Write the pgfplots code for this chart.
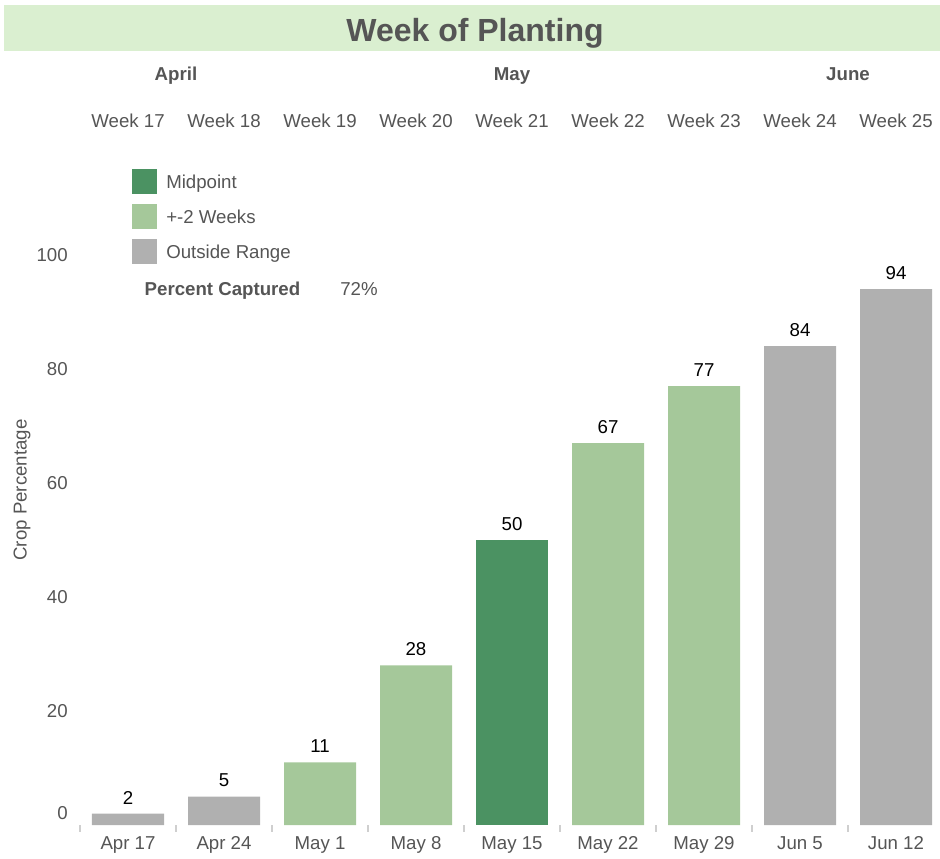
\documentclass[border=0pt]{standalone}
\usepackage{fontspec}
\setmainfont{Liberation Sans}
\usepackage{pgfplots}
\pgfplotsset{compat=1.18}
\definecolor{midg}{HTML}{4B9262}
\definecolor{lightg}{HTML}{A5C89A}
\definecolor{outg}{HTML}{B0B0B0}
\definecolor{txt}{HTML}{555555}
\definecolor{bannerc}{HTML}{DAEFD0}
\definecolor{tickc}{HTML}{CFCFCF}
\newcommand{\lf}{\fontsize{14}{16.8}\selectfont}
\tikzset{lbl/.style={font=\lf, color=txt, text height=10pt, text depth=0pt, inner sep=0pt}}
\begin{document}
\begin{tikzpicture}[x=0.75pt,y=0.75pt]
\useasboundingbox (0,0) rectangle (940,858);
\begin{axis}[
  at={(60pt,24.75pt)}, anchor=south west,
  scale only axis, width=645pt, height=427.5pt,
  xmin=-0.5, xmax=8.4583, ymin=0, ymax=100,
  clip=false,
  ybar, bar width=0.75, bar shift=0pt,
  axis line style={draw=none},
  /pgf/number format/assume math mode=true,
  xtick={0,1,2,3,4,5,6,7,8},
  xticklabels={Apr 17,Apr 24,May 1,May 8,May 15,May 22,May 29,Jun 5,Jun 12},
  ytick={20,40,60,80,100},
  xtick pos=left, ytick pos=left,
  xtick style={draw=none}, ytick style={draw=none},
  xticklabel style={font=\lf, color=txt, text height=10pt, text depth=0pt, inner sep=0pt, anchor=north, yshift=-4pt},
  yticklabel style={font=\lf, color=txt, text height=10pt, text depth=0pt, inner sep=0pt, anchor=east, xshift=-9pt},
  extra y ticks={0},
  extra y tick style={yticklabel style={yshift=9pt}},
  extra x ticks={-0.5,0.5,1.5,2.5,3.5,4.5,5.5,6.5,7.5},
  extra x tick labels={},
  extra x tick style={xtick style={draw=tickc, line width=1.3pt}, tick align=outside, major tick length=5pt},
  ylabel={Crop Percentage},
  every axis y label/.style={at={(axis description cs:-0.0698,0.5877)}, rotate=90, anchor=center, font=\lf, color=txt, text height=10pt, text depth=0pt, inner sep=0pt},
  nodes near coords,
  every node near coord/.append style={font=\lf, color=black, inner sep=0pt, text height=10pt, text depth=0pt, anchor=south, yshift=7pt},
]
\addplot[fill=midg, draw=none] coordinates {(4,50)};
\addplot[fill=lightg, draw=none] coordinates {(2,11) (3,28) (5,67) (6,77)};
\addplot[fill=outg, draw=none] coordinates {(0,2) (1,5) (7,84) (8,94)};
\end{axis}
% title banner
\fill[bannerc] (4,807) rectangle (940,853);
\node[font=\bfseries\fontsize{24}{28}\selectfont, color=txt, text height=17pt, text depth=0pt, inner sep=0pt] at (475,828) {Week of Planting};
% months
\node[lbl, font=\lf\bfseries] at (176,784) {April};
\node[lbl, font=\lf\bfseries] at (512,784) {May};
\node[lbl, font=\lf\bfseries] at (848,784) {June};
% weeks
\foreach \w [count=\i from 0] in {17,...,25} {
  \node[lbl] at (128+96*\i,737) {Week \w};
}
% legend
\fill[midg] (132,664) rectangle (157,689);
\fill[lightg] (132,629) rectangle (157,654);
\fill[outg] (132,594) rectangle (157,619);
\node[lbl, anchor=west] at (166,676) {Midpoint};
\node[lbl, anchor=west] at (166,641) {+-2 Weeks};
\node[lbl, anchor=west] at (166,606) {Outside Range};
\node[lbl, font=\lf\bfseries] at (222.5,569) {Percent Captured};
\node[lbl, anchor=west] at (340,569) {72\%};
\end{tikzpicture}
\end{document}
